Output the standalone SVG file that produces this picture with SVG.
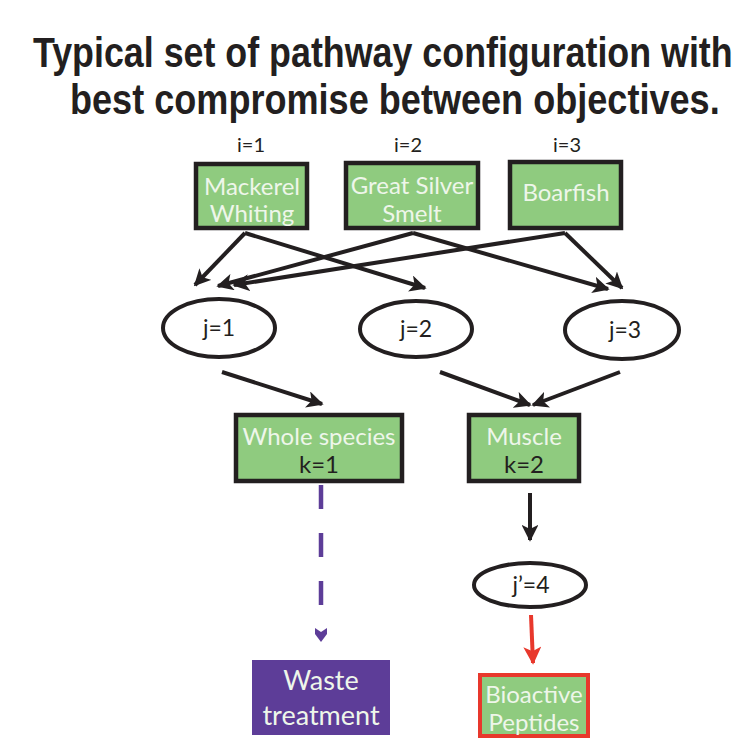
<svg xmlns="http://www.w3.org/2000/svg" width="741" height="746" viewBox="0 0 741 746">
  <style>
    .title { font-family: "Liberation Sans", Arial, sans-serif; font-weight: bold; font-size: 42px; fill: #231f20; }
    .idx { font-family: Lato, "Open Sans", sans-serif; font-size: 20px; fill: #231f20; text-anchor: middle; }
    .box { fill: #8fcb7f; stroke: #231f20; stroke-width: 4.5; }
    .lbl { font-family: Lato, "Open Sans", sans-serif; font-size: 24px; fill: #eef6ea; text-anchor: middle; }
    .dark { fill: #231f20; }
    .ell { fill: #ffffff; stroke: #231f20; stroke-width: 4; }
    .eltxt { font-family: Lato, "Open Sans", sans-serif; font-size: 23px; fill: #231f20; text-anchor: middle; }
    .edge { fill: none; stroke: #231f20; stroke-width: 4; marker-end: url(#ah); }
  </style>
  <defs>
    <marker id="ah" viewBox="0 0 10 10" refX="9" refY="5" markerWidth="4.2" markerHeight="4.2" orient="auto" markerUnits="strokeWidth">
      <path d="M0,0 L10,5 L0,10 L2.5,5 Z" fill="#231f20"/>
    </marker>
    <marker id="ahRed" viewBox="0 0 10 10" refX="9" refY="5" markerWidth="4.5" markerHeight="4.5" orient="auto" markerUnits="strokeWidth">
      <path d="M0,0 L10,5 L0,10 L2.5,5 Z" fill="#e8382c"/>
    </marker>
  </defs>

  <rect width="741" height="746" fill="#ffffff"/>

  <!-- heading, set in a narrowed bold sans -->
  <g transform="scale(0.78,1)">
    <text class="title" x="42.3" y="67" textLength="897" lengthAdjust="spacingAndGlyphs">Typical set of pathway configuration with</text>
    <text class="title" x="89.7" y="114" textLength="833" lengthAdjust="spacingAndGlyphs">best compromise between objectives.</text>
  </g>

  <!-- species indices -->
  <text class="idx" x="251" y="152">i=1</text>
  <text class="idx" x="408" y="152">i=2</text>
  <text class="idx" x="567" y="152">i=3</text>

  <!-- connectors -->
  <g id="connectors">
    <path class="edge" d="M245,233 L195,285"/>
    <path class="edge" d="M245,233 L425,288"/>
    <path class="edge" d="M413,233 L218,286"/>
    <path class="edge" d="M413,233 L608,289"/>
    <path class="edge" d="M565,233 L234,285"/>
    <path class="edge" d="M565,233 L622,288"/>
    <path class="edge" d="M222,372 L322,404"/>
    <path class="edge" d="M440,372 L530,405"/>
    <path class="edge" d="M620,372 L533,405"/>
    <path class="edge" d="M530,493 L530,540"/>
    <path fill="none" stroke="#e8382c" stroke-width="4" marker-end="url(#ahRed)" d="M531,615 L533,663"/>
    <path fill="none" stroke="#5d3d98" stroke-width="4.5" stroke-dasharray="24,24" d="M321,485 L321,608"/>
    <path fill="#5d3d98" d="M315,628 L321,632 L327,628 L327,634 L321,642 L315,634 Z"/>
  </g>

  <g id="n-mackerel">
    <rect class="box" x="196" y="164" width="111" height="64"/>
    <text class="lbl" x="252" y="195">Mackerel</text>
    <text class="lbl" x="252" y="222">Whiting</text>
  </g>
  <g id="n-silver-smelt">
    <rect class="box" x="346" y="163" width="132" height="65"/>
    <text class="lbl" x="412" y="194">Great Silver</text>
    <text class="lbl" x="412" y="222">Smelt</text>
  </g>
  <g id="n-boarfish">
    <rect class="box" x="510" y="162" width="111" height="66"/>
    <text class="lbl" x="566" y="201">Boarfish</text>
  </g>

  <g id="n-j1">
    <ellipse class="ell" cx="219" cy="328" rx="56" ry="29"/>
    <text class="eltxt" x="219" y="336">j=1</text>
  </g>
  <g id="n-j2">
    <ellipse class="ell" cx="416" cy="329" rx="56" ry="28"/>
    <text class="eltxt" x="416" y="337">j=2</text>
  </g>
  <g id="n-j3">
    <ellipse class="ell" cx="622" cy="330" rx="57" ry="29"/>
    <text class="eltxt" x="625" y="338">j=3</text>
  </g>

  <g id="n-whole">
    <rect class="box" x="236" y="415" width="166" height="66"/>
    <text class="lbl" x="319" y="445">Whole species</text>
    <text class="lbl dark" x="319" y="473">k=1</text>
  </g>
  <g id="n-muscle">
    <rect class="box" x="469" y="415" width="110" height="66"/>
    <text class="lbl" x="524" y="445">Muscle</text>
    <text class="lbl dark" x="524" y="473">k=2</text>
  </g>

  <g id="n-j4">
    <ellipse class="ell" cx="530" cy="585" rx="56" ry="22"/>
    <text class="eltxt" x="531" y="593">j’=4</text>
  </g>

  <g id="n-waste">
    <rect x="252" y="660" width="138" height="75" fill="#5d3d98"/>
    <text class="lbl" x="321" y="690" style="font-size:27px">Waste</text>
    <text class="lbl" x="321" y="725" style="font-size:27px">treatment</text>
  </g>
  <g id="n-peptides">
    <rect x="480" y="675" width="108" height="61" fill="#8fcb7f" stroke="#e8382c" stroke-width="4"/>
    <text class="lbl" x="534" y="703">Bioactive</text>
    <text class="lbl" x="534" y="731">Peptides</text>
  </g>
</svg>
